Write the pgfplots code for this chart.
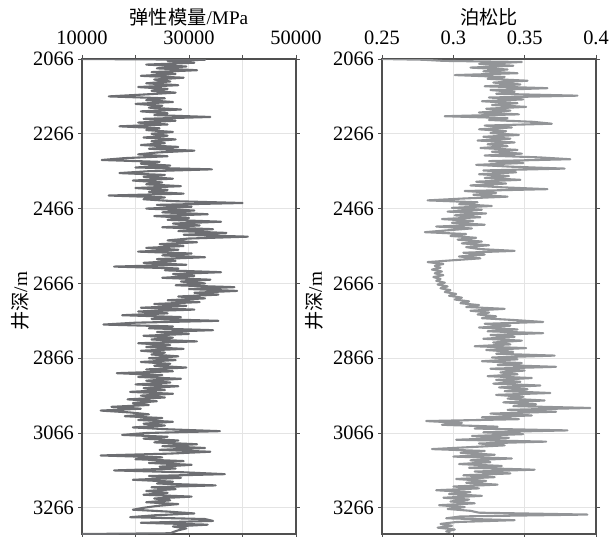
\documentclass[border=0pt]{standalone}
\usepackage{pgfplots}
\pgfplotsset{compat=1.18}
\usepackage{fontspec}
\setmainfont{Liberation Serif}
\newfontfamily\cjk{Noto Sans CJK SC}
\definecolor{lineA}{HTML}{6D6E72}
\definecolor{lineB}{HTML}{939598}
\definecolor{boxc}{HTML}{505050}
\definecolor{gridc}{HTML}{E4E4E4}
\pgfplotsset{
  logstyle/.style={
    scale only axis, width=107pt, height=237.5pt, anchor=south west,
    y dir=reverse, ymin=2066, ymax=3336,
    ytick={2066,2266,2466,2666,2866,3066,3266},
    xticklabel pos=top,
    scaled x ticks=false,
    tick align=outside, major tick length=2pt,
    tick style={boxc, line width=0.4pt},
    axis line style={boxc, line width=1pt},
    grid=major, major grid style={gridc, line width=0.5pt},
    /pgf/number format/1000 sep={},
    /pgf/number format/assume math mode=true,
    ticklabel style={font=\fontsize{10.2}{12}\selectfont},
    xticklabel style={yshift=1.5pt},
    yticklabel style={xshift=1.5pt},
    ylabel style={at={(axis description cs:-0.29,0.49)}, anchor=center, font=\fontsize{9.6}{12}\selectfont},
    clip mode=individual,
  }
}
\begin{document}
\begin{tikzpicture}
\useasboundingbox (0,0) rectangle (305pt,268pt);
\begin{axis}[logstyle, at={(41pt,1pt)},
  xmin=10000, xmax=50000,
  xtick={10000,20000,30000,40000,50000},
  xticklabels={10000,,30000,,50000},
  ylabel={{\cjk 井深}/m}]
\addplot[lineA, line width=1.05pt, line join=round] coordinates {
(10000,2066)(33000,2068)(26000,2071)(31000,2076)(22000,2081)(29500,2086)(24000,2091)(31500,2096)(23000,2101)(27500,2106)
(21000,2111)(29000,2116)(23500,2121)(26500,2126)(22000,2131)(28000,2136)(20500,2141)(26000,2146)(23000,2151)(27500,2156)
(21500,2161)(15000,2166)(25500,2171)(22000,2176)(27000,2181)(20000,2186)(25000,2191)(22500,2196)(28500,2201)(21000,2206)
(26000,2211)(23500,2216)(34000,2221)(21500,2226)(27500,2231)(20500,2236)(26000,2241)(17000,2246)(24500,2251)(22000,2256)
(27000,2261)(23000,2266)(26000,2271)(21500,2276)(27500,2281)(23000,2286)(25500,2291)(21000,2296)(28000,2301)(22500,2306)
(31000,2311)(24000,2316)(20500,2321)(26000,2326)(18000,2331)(13700,2336)(24500,2341)(21000,2346)(26500,2351)(20000,2356)
(34300,2361)(22500,2366)(17000,2371)(25500,2376)(21500,2381)(27000,2386)(19500,2391)(25000,2396)(22000,2401)(28500,2406)
(20000,2411)(26000,2416)(22500,2421)(29000,2426)(15000,2431)(25500,2436)(21500,2441)(27000,2446)(40000,2451)(24000,2456)
(30500,2461)(22000,2466)(31000,2471)(25000,2476)(33500,2481)(23500,2486)(30000,2491)(26000,2496)(36000,2501)(27000,2506)
(32000,2511)(25000,2516)(34500,2521)(28000,2526)(37000,2531)(29000,2536)(41000,2541)(30000,2546)(26000,2551)(31500,2556)
(24500,2561)(29000,2566)(22000,2571)(28000,2576)(20500,2581)(30500,2586)(25000,2591)(33000,2596)(24000,2601)(27500,2606)
(21500,2611)(29500,2616)(16000,2621)(28000,2626)(25500,2631)(36000,2636)(27000,2641)(31000,2646)(25000,2651)(34000,2656)
(28500,2661)(33000,2666)(27500,2671)(38500,2676)(30000,2681)(39000,2686)(31000,2691)(35500,2696)(28000,2701)(33000,2706)
(26000,2711)(32000,2716)(23500,2721)(29500,2726)(21000,2731)(31000,2736)(20500,2741)(26000,2746)(17500,2751)(28500,2756)
(23000,2761)(35500,2766)(20000,2771)(14000,2776)(27000,2781)(22500,2786)(34500,2791)(24000,2796)(30000,2801)(21500,2806)
(27000,2811)(23000,2816)(31500,2821)(20500,2826)(26500,2831)(22000,2836)(29000,2841)(21000,2846)(25500,2851)(23000,2856)
(28000,2861)(22500,2866)(27500,2871)(21000,2876)(26500,2881)(23500,2886)(29500,2891)(22000,2896)(27000,2901)(16500,2906)
(25000,2911)(20500,2916)(28500,2921)(22000,2926)(26500,2931)(20000,2936)(28000,2941)(21500,2946)(25500,2951)(19000,2956)
(27000,2961)(21000,2966)(25500,2971)(18500,2976)(24000,2981)(19500,2986)(22500,2991)(15500,2996)(21000,3001)(13500,3006)
(19000,3011)(22500,3016)(18000,3021)(25000,3026)(20500,3031)(27000,3036)(21500,3041)(25500,3046)(19500,3051)(26000,3056)
(35800,3061)(22000,3066)(17500,3071)(26000,3076)(21500,3081)(28000,3086)(23500,3091)(31500,3096)(25000,3101)(33000,3106)
(24500,3111)(34000,3116)(26500,3121)(13500,3126)(25000,3131)(20000,3136)(29000,3141)(22500,3146)(30500,3151)(24500,3156)
(27500,3161)(16000,3166)(29000,3171)(36700,3176)(22500,3181)(28500,3186)(19500,3191)(27000,3196)(24000,3201)(35000,3206)
(23000,3211)(27500,3216)(22000,3221)(26000,3226)(21500,3231)(30500,3236)(23500,3241)(26500,3246)(22000,3251)(28000,3256)
(24000,3261)(21500,3266)(19500,3271)(26000,3276)(31000,3281)(23500,3286)(19000,3291)(33000,3296)(34500,3301)(21000,3306)
(33500,3311)(27000,3316)(29500,3321)(28000,3326)(27000,3331)(26500,3334)(10000,3336)
};
\node[font=\fontsize{9.6}{12}\selectfont] at (axis description cs:0.5,1) [yshift=21pt] {{\cjk 弹性模量}/MPa};
\end{axis}
\begin{axis}[logstyle, at={(191pt,1pt)},
  xmin=0.25, xmax=0.4,
  xtick={0.25,0.3,0.35,0.4},
  xticklabels={0.25,0.3,0.35,0.4},
  ylabel={{\cjk 井深}/m},
  ylabel style={at={(axis description cs:-0.315,0.49)}}]
\addplot[lineB, line width=1.05pt, line join=round] coordinates {
(0.25,2066)(0.279,2068)(0.293,2071)(0.348,2074)(0.318,2079)(0.342,2084)(0.312,2089)(0.338,2094)(0.321,2099)(0.345,2104)
(0.301,2109)(0.336,2114)(0.324,2119)(0.352,2124)(0.328,2129)(0.347,2134)(0.322,2139)(0.366,2144)(0.326,2149)(0.343,2154)
(0.330,2159)(0.387,2164)(0.325,2169)(0.349,2174)(0.320,2179)(0.345,2184)(0.327,2189)(0.351,2194)(0.323,2199)(0.340,2204)
(0.318,2209)(0.346,2214)(0.294,2219)(0.338,2224)(0.325,2229)(0.356,2234)(0.369,2239)(0.322,2244)(0.341,2249)(0.318,2254)
(0.337,2259)(0.326,2264)(0.346,2269)(0.321,2274)(0.340,2279)(0.317,2284)(0.343,2289)(0.324,2294)(0.338,2299)(0.319,2304)
(0.345,2309)(0.327,2314)(0.348,2319)(0.322,2324)(0.360,2329)(0.382,2334)(0.325,2339)(0.349,2344)(0.316,2349)(0.341,2354)
(0.378,2359)(0.321,2364)(0.344,2369)(0.318,2374)(0.339,2379)(0.322,2384)(0.347,2389)(0.316,2394)(0.337,2399)(0.312,2404)
(0.334,2409)(0.366,2414)(0.308,2419)(0.330,2424)(0.314,2429)(0.338,2434)(0.307,2439)(0.282,2444)(0.317,2449)(0.304,2454)
(0.327,2459)(0.299,2464)(0.320,2469)(0.296,2474)(0.323,2479)(0.301,2484)(0.319,2489)(0.292,2494)(0.314,2499)(0.299,2504)
(0.322,2509)(0.288,2514)(0.313,2519)(0.296,2524)(0.280,2529)(0.309,2534)(0.298,2539)(0.316,2544)(0.303,2549)(0.320,2554)
(0.306,2559)(0.325,2564)(0.309,2569)(0.318,2574)(0.343,2579)(0.307,2584)(0.322,2589)(0.304,2594)(0.319,2599)(0.300,2604)
(0.282,2609)(0.293,2614)(0.287,2619)(0.291,2624)(0.285,2629)(0.292,2634)(0.287,2639)(0.293,2644)(0.286,2649)(0.291,2654)
(0.288,2659)(0.294,2664)(0.289,2669)(0.296,2674)(0.291,2679)(0.298,2684)(0.294,2689)(0.302,2694)(0.297,2699)(0.306,2704)
(0.301,2709)(0.311,2714)(0.305,2719)(0.318,2724)(0.309,2729)(0.336,2734)(0.312,2739)(0.325,2744)(0.317,2749)(0.330,2754)
(0.320,2759)(0.343,2764)(0.363,2769)(0.322,2774)(0.340,2779)(0.318,2784)(0.345,2789)(0.324,2794)(0.363,2799)(0.326,2804)
(0.343,2809)(0.321,2814)(0.348,2819)(0.328,2824)(0.340,2829)(0.315,2834)(0.351,2839)(0.323,2844)(0.342,2849)(0.330,2854)
(0.371,2859)(0.327,2864)(0.345,2869)(0.320,2874)(0.348,2879)(0.331,2884)(0.372,2889)(0.326,2894)(0.350,2899)(0.333,2904)
(0.345,2909)(0.324,2914)(0.355,2919)(0.330,2924)(0.347,2929)(0.328,2934)(0.361,2939)(0.332,2944)(0.352,2949)(0.336,2954)
(0.368,2959)(0.330,2964)(0.349,2969)(0.338,2974)(0.364,2979)(0.335,2984)(0.358,2989)(0.342,2994)(0.396,2999)(0.338,3004)
(0.372,3009)(0.326,3014)(0.355,3019)(0.320,3024)(0.346,3029)(0.281,3034)(0.306,3039)(0.292,3044)(0.331,3049)(0.315,3054)
(0.380,3059)(0.321,3064)(0.349,3069)(0.313,3074)(0.339,3079)(0.302,3084)(0.365,3089)(0.318,3094)(0.336,3099)(0.310,3104)
(0.285,3109)(0.322,3114)(0.305,3119)(0.329,3124)(0.300,3129)(0.341,3134)(0.312,3139)(0.326,3144)(0.304,3149)(0.334,3154)
(0.311,3159)(0.357,3164)(0.315,3169)(0.340,3174)(0.307,3179)(0.329,3184)(0.302,3189)(0.323,3194)(0.309,3199)(0.331,3204)
(0.300,3209)(0.318,3214)(0.288,3219)(0.312,3224)(0.297,3229)(0.320,3234)(0.293,3239)(0.311,3244)(0.298,3249)(0.315,3254)
(0.290,3259)(0.308,3264)(0.296,3269)(0.312,3274)(0.318,3279)(0.394,3284)(0.305,3289)(0.295,3294)(0.343,3299)(0.302,3304)
(0.291,3309)(0.299,3314)(0.289,3319)(0.301,3324)(0.295,3329)(0.298,3331)
};
\node[font=\fontsize{9.6}{12}\selectfont] at (axis description cs:0.5,1) [yshift=21pt] {\cjk 泊松比};
\end{axis}
\end{tikzpicture}
\end{document}
